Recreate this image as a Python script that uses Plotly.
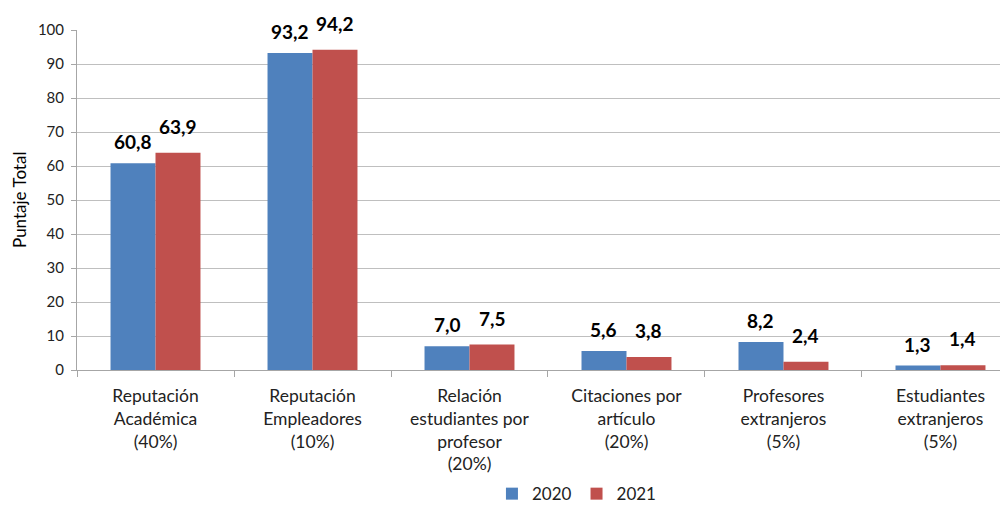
import plotly.graph_objects as go

categories = [
    "Reputación<br>Académica<br>(40%)",
    "Reputación<br>Empleadores<br>(10%)",
    "Relación<br>estudiantes por<br>profesor<br>(20%)",
    "Citaciones por<br>artículo<br>(20%)",
    "Profesores<br>extranjeros<br>(5%)",
    "Estudiantes<br>extranjeros<br>(5%)",
]
values_2020 = [60.8, 93.2, 7.0, 5.6, 8.2, 1.3]
values_2021 = [63.9, 94.2, 7.5, 3.8, 2.4, 1.4]
y_ticks = [0, 10, 20, 30, 40, 50, 60, 70, 80, 90, 100]

FONT = "Lato"
BLUE = "#4F81BD"
RED = "#C0504D"

fig = go.Figure()
fig.add_trace(go.Bar(x=categories, y=values_2020, name="2020", marker_color=BLUE,
                     marker_line_width=0))
fig.add_trace(go.Bar(x=categories, y=values_2021, name="2021", marker_color=RED,
                     marker_line_width=0))

# value labels above each bar (comma decimal separator)
annotations = []
for series, xshift, yshift in ((values_2020, -22.5, 8), (values_2021, 22.5, 13)):
    for cat, v in zip(categories, series):
        annotations.append(dict(
            x=cat, y=v, xref="x", yref="y", text=f"{v:.1f}".replace(".", ","),
            showarrow=False, xanchor="center", yanchor="bottom",
            xshift=xshift, yshift=yshift,
            font=dict(family=FONT, size=19, color="#000000", weight="bold"),
        ))
annotations.append(dict(text="Puntaje Total", textangle=-90, xref="paper", yref="paper",
                        x=-0.0623, y=0.5, showarrow=False, xanchor="center", yanchor="middle",
                        font=dict(family=FONT, size=17, color="#000000")))

# the page places the figure 8px in from the window's top-left corner
fig.update_layout(
    width=1000, height=498,
    margin=dict(l=69, r=0, t=22, b=136, autoexpand=False),
    paper_bgcolor="white", plot_bgcolor="white",
    barmode="group", bargap=0.427, bargroupgap=0,
    font=dict(family=FONT, size=17, color="#222222"),
    showlegend=True,
    legend=dict(orientation="h", x=0.537, xanchor="center", y=-0.365, yanchor="middle",
                font=dict(family=FONT, size=17, color="#222222"),
                traceorder="normal", itemwidth=30),
    xaxis=dict(range=[-0.5, 5.43], tickson="boundaries", ticks="outside", ticklen=6,
               tickcolor="#A6A6A6", showline=True, linecolor="#A6A6A6", showgrid=False,
               automargin=False, ticklabelstandoff=10,
               tickfont=dict(family=FONT, size=17.5, color="#222222")),
    yaxis=dict(range=[0, 100], tickvals=y_ticks, ticks="outside", ticklen=5,
               tickcolor="#A6A6A6", showline=True, linecolor="#A6A6A6",
               gridcolor="#BFBFBF", gridwidth=1, zeroline=False, automargin=False,
               ticklabelstandoff=4,
               tickfont=dict(family=FONT, size=15, color="#222222")),
    annotations=annotations,
)
fig.write_html("out.html")
